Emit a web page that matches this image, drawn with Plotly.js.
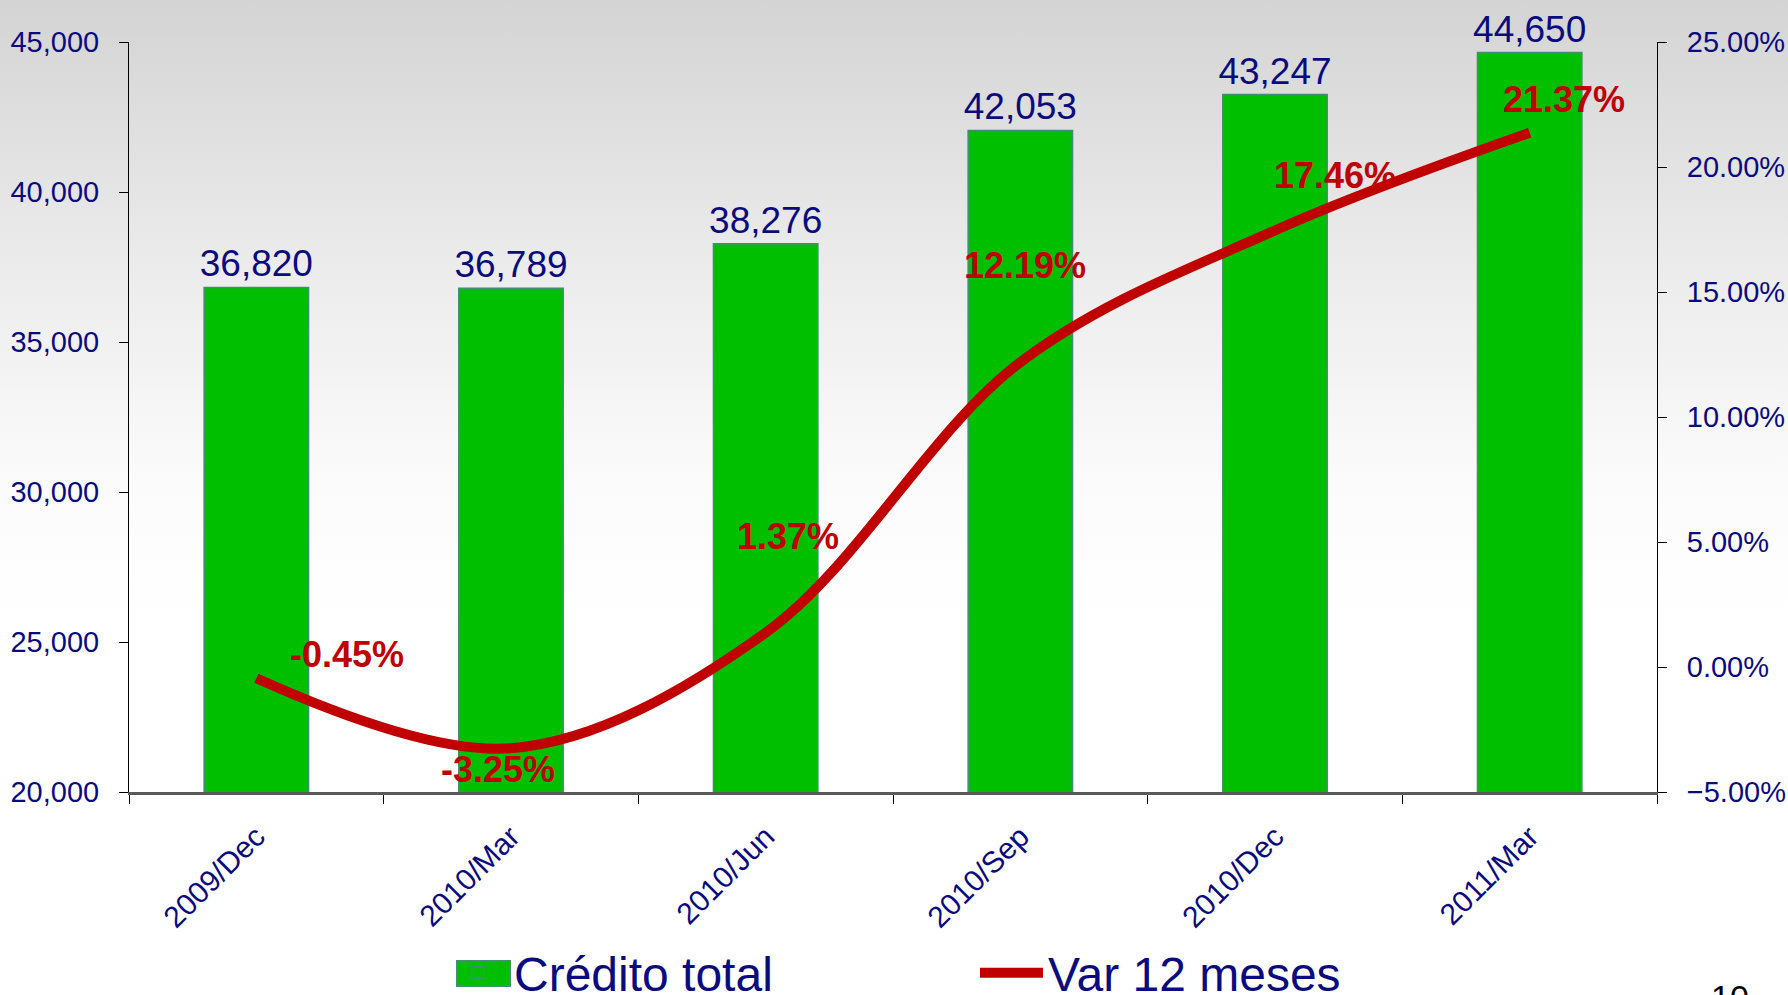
<!DOCTYPE html>
<html>
<head>
<meta charset="utf-8">
<script src="https://cdn.plot.ly/plotly-3.0.1.min.js"></script>
<style>
  html, body { margin: 0; padding: 0; }
  body { width: 1788px; height: 995px; overflow: hidden;
         background: linear-gradient(to bottom, #d4d4d4 0px, #ebebeb 260px, #fbfbfb 480px, #ffffff 620px); }
  #chart { width: 1788px; height: 995px; }
</style>
</head>
<body>
<div id="chart"></div>
<script>
// ---- data ----
const periods = ["2009/Dec", "2010/Mar", "2010/Jun", "2010/Sep", "2010/Dec", "2011/Mar"];
const creditoTotal = [36820, 36789, 38276, 42053, 43247, 44650];
const var12Meses = [-0.45, -3.25, 1.37, 12.19, 17.46, 21.37];
const seriesNames = ["Crédito total", "Var 12 meses"];

// label offsets (px) for the percentage labels
const pctLabelShiftX = [91, -13, 22, 5, 60, 34];
const pctLabelShiftY = [24, -21, 96, 97, 55, 33];

const navy = "#0b0b80";
const red = "#c00000";
const green = "#00bf00";
const FONT = "Liberation Sans, Arial, sans-serif";

const barTrace = {
  type: "bar",
  name: seriesNames[0],
  x: periods,
  y: creditoTotal,
  marker: { color: green, line: { color: "#3f8f70", width: 1.5 } },
  text: creditoTotal.map(v => v.toLocaleString("en-US")),
  textposition: "outside",
  constraintext: "none",
  cliponaxis: false,
  textfont: { family: FONT, size: 37, color: navy },
  hoverinfo: "x+y"
};

const lineTrace = {
  type: "scatter",
  mode: "lines",
  name: seriesNames[1],
  x: periods,
  y: var12Meses,
  yaxis: "y2",
  line: { color: red, width: 10, shape: "spline", smoothing: 1 },
  cliponaxis: false
};

const annotations = var12Meses.map((v, i) => ({
  x: periods[i], y: v, xref: "x", yref: "y2",
  text: v.toFixed(2) + "%",
  showarrow: false,
  xanchor: "center", yanchor: "middle",
  xshift: pctLabelShiftX[i], yshift: pctLabelShiftY[i],
  font: { family: FONT, size: 36, color: red, weight: "bold" }
}));

annotations.push({
  xref: "paper", yref: "paper", x: 1.048, y: -0.245,
  xanchor: "center", yanchor: "top", showarrow: false,
  text: "10", font: { family: FONT, size: 34, color: "#000000" }
});

// paper-coordinate helpers (plot area: x 129..1657, y 42..792)
const px2x = p => (p - 129) / 1528;
const px2y = p => (792 - p) / 750;

const layout = {
  width: 1788, height: 995,
  paper_bgcolor: "rgba(0,0,0,0)",
  plot_bgcolor: "rgba(0,0,0,0)",
  margin: { l: 129, r: 131, t: 42, b: 203, pad: 0, autoexpand: false },
  bargap: 0.59,
  showlegend: true,
  font: { family: FONT, color: navy },
  xaxis: {
    type: "category",
    range: [-0.5, 5.5],
    automargin: false,
    showline: true, linecolor: "#5a5a5a", linewidth: 3,
    ticks: "outside", tickson: "boundaries", ticklen: 9, tickcolor: "#000", tickwidth: 1,
    tickangle: -45,
    ticklabelstandoff: 12,
    tickfont: { family: FONT, size: 30, color: navy },
    showgrid: false, zeroline: false
  },
  yaxis: {
    range: [20000, 45000],
    automargin: false,
    tick0: 20000, dtick: 5000,
    tickformat: ",d",
    showline: true, linecolor: "#000", linewidth: 1,
    ticks: "outside", ticklen: 9, tickcolor: "#000",
    ticklabelstandoff: 14,
    tickfont: { family: FONT, size: 29, color: navy },
    showgrid: false, zeroline: false
  },
  yaxis2: {
    overlaying: "y", side: "right",
    range: [-5, 25],
    automargin: false,
    tick0: -5, dtick: 5,
    tickformat: ".2f", ticksuffix: "%",
    showline: true, linecolor: "#000", linewidth: 1,
    ticks: "outside", ticklen: 9, tickcolor: "#000",
    ticklabelstandoff: 14,
    tickfont: { family: FONT, size: 29, color: navy },
    showgrid: false, zeroline: false
  },
  legend: {
    orientation: "h",
    xref: "paper", yref: "paper",
    x: px2x(441), y: px2y(935), xanchor: "left", yanchor: "top",
    bgcolor: "rgba(0,0,0,0)",
    font: { family: FONT, size: 48, color: navy },
    entrywidth: 456, entrywidthmode: "pixels",
    itemwidth: 63,
    traceorder: "normal"
  },
  shapes: [{
    type: "rect", xref: "paper", yref: "paper", layer: "above",
    x0: px2x(457), x1: px2x(510), y0: px2y(986), y1: px2y(961),
    fillcolor: green, line: { color: "#3f8f70", width: 2 }
  }],
  annotations: annotations
};

Plotly.newPlot("chart", [barTrace, lineTrace], layout, { displayModeBar: false, staticPlot: true });
</script>
</body>
</html>
